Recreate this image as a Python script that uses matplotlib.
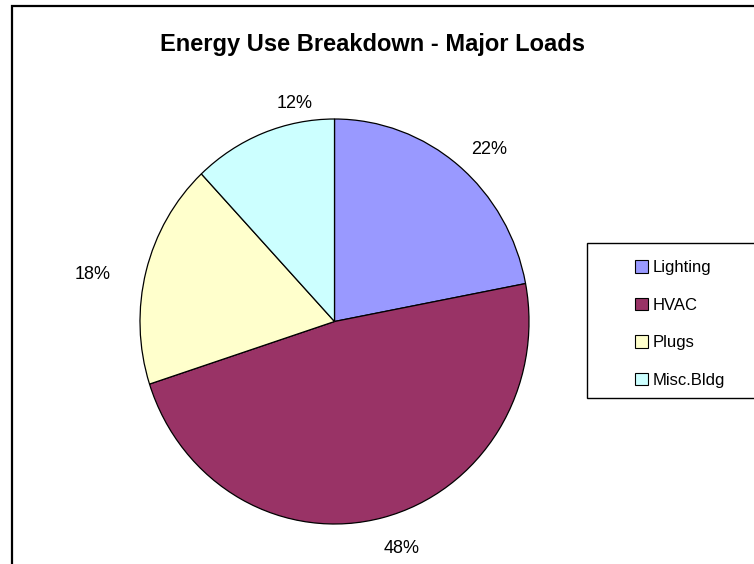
import matplotlib
matplotlib.use("Agg")
import matplotlib.pyplot as plt
from matplotlib.patches import Patch, Rectangle
from matplotlib.transforms import offset_copy

plt.rcParams['font.family'] = ['Liberation Sans', 'DejaVu Sans']

# Energy use shares by load type (percent)
loads = ["Lighting", "HVAC", "Plugs", "Misc.Bldg"]
shares = [22, 48, 18, 12]
colors = ["#9999FF", "#993366", "#FFFFCC", "#CCFFFF"]

W, H = 754, 564
fig = plt.figure(figsize=(W / 100, H / 100), dpi=100)

# outer chart frame (runs off the bottom/right edges)
fig.patches.append(Rectangle((12 / W, -0.1), 1.2, (H - 6) / H + 0.1,
                             transform=fig.transFigure, fill=False,
                             edgecolor="black", linewidth=1.6))

fig.text(373 / W, 1 - 44 / H, "Energy Use Breakdown - Major Loads",
         ha="center", va="center", fontsize=17, fontweight="bold")

# pie axes: centre (334.5, 321.5) px, radii 194.5 x 202.5 px
cx, cy, rx, ry = 334.5, 321.5, 194.5, 202.5
span = 1.25
ax = fig.add_axes([(cx - span * rx) / W, (H - cy - span * ry) / H,
                   2 * span * rx / W, 2 * span * ry / H])
wedges, texts = ax.pie(shares, colors=colors, startangle=90, counterclock=False,
                       labels=[f"{s}%" for s in shares], labeldistance=1.1,
                       textprops=dict(fontsize=13),
                       wedgeprops=dict(edgecolor="black", linewidth=0.9))
ax.set_aspect("auto")
ax.set_xlim(-span, span)
ax.set_ylim(-span, span)
ax.axis("off")

# nudge the percentage labels (points) to sit where Excel puts them
nudges = [(0, 0), (-3, -8), (-12, -6), (41, 8)]
for t, (dx, dy) in zip(texts, nudges):
    t.set_transform(offset_copy(t.get_transform(), fig=fig, x=dx, y=dy,
                                units="points"))

# legend box, clipped at the right edge
fig.patches.append(Rectangle((587 / W, 1 - 398 / H), 0.3, 155 / H,
                             transform=fig.transFigure, facecolor="white",
                             edgecolor="black", linewidth=1.0))
handles = [Patch(facecolor=c, edgecolor="black", linewidth=0.8) for c in colors]
fig.legend(handles, loads, loc="upper left",
           bbox_to_anchor=(627 / W, 1 - 252 / H), frameon=False,
           fontsize=12, handlelength=0.75, handleheight=0.75,
           handletextpad=0.3, labelspacing=1.35, borderpad=0)

fig.savefig("out.png", dpi=100)
